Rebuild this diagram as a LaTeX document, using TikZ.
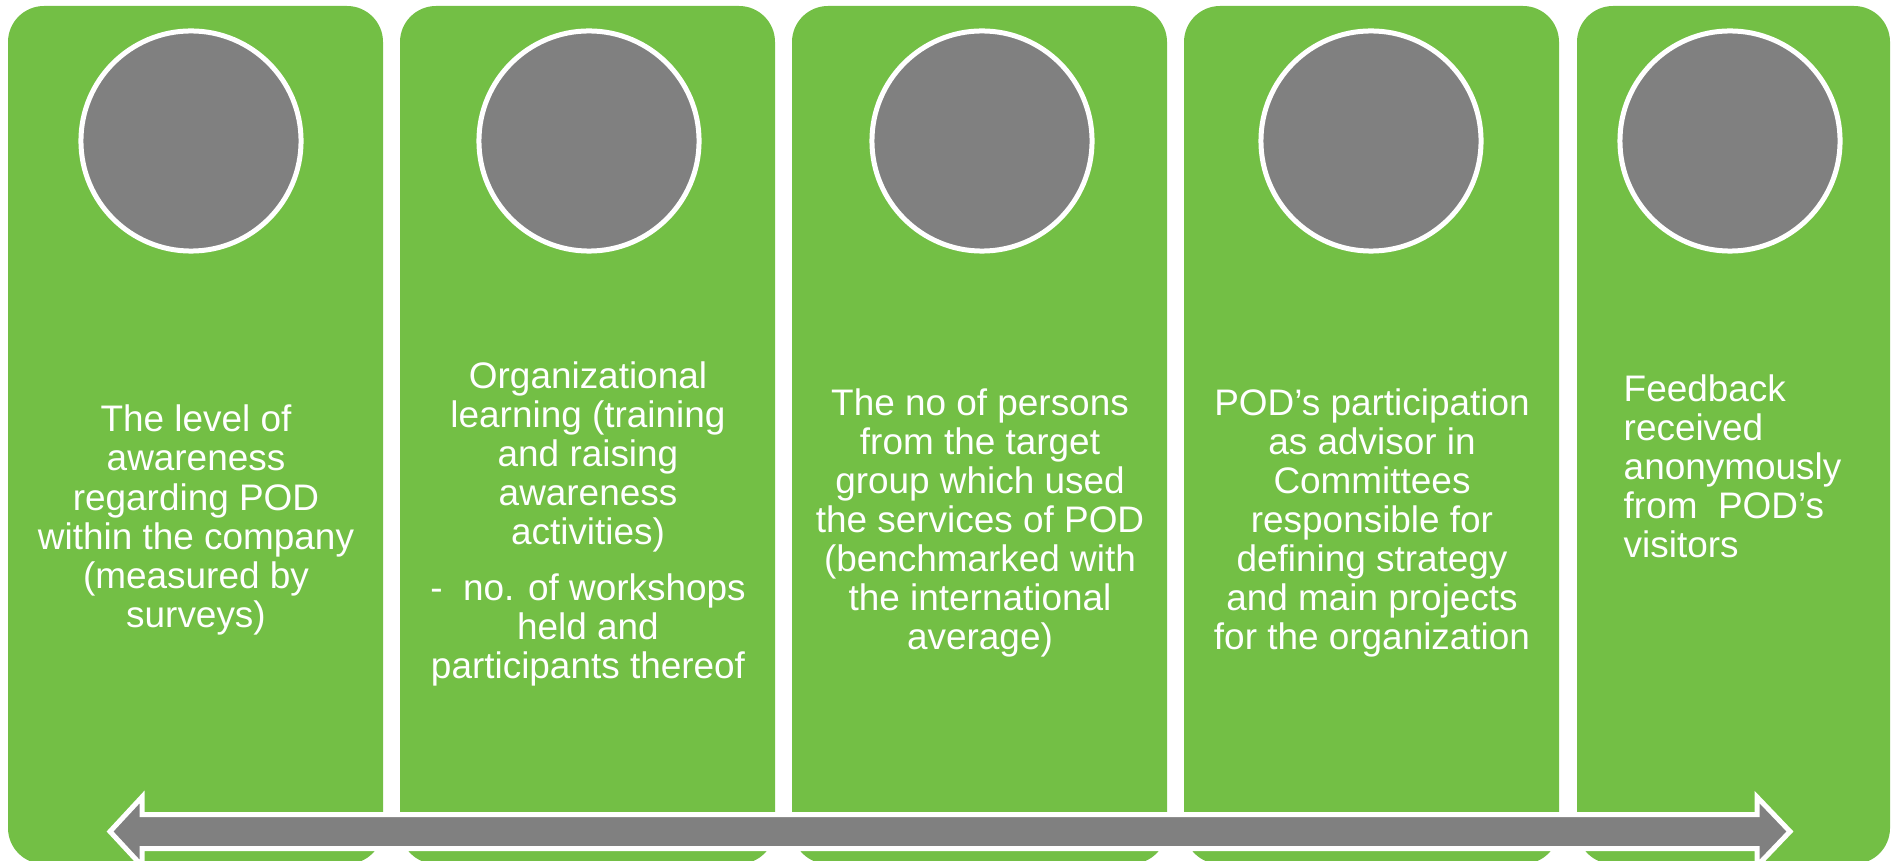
\documentclass[tikz,border=0pt]{standalone}
\usepackage{fontspec}
\setmainfont{Liberation Sans}
\definecolor{boxgreen}{RGB}{115,191,69}
\definecolor{discgray}{RGB}{128,128,128}
\tikzset{
  panel/.style={fill=boxgreen, rounded corners=0.36cm},
  disc/.style={circle, fill=discgray, draw=white, line width=0.05cm, minimum size=2.2cm, inner sep=0},
  itemtext/.style={text=white, align=center, inner sep=0, font=\fontsize{10.5}{11.1}\selectfont}
}
\begin{document}
\begin{tikzpicture}[x=0.01cm, y=-0.01cm]
\useasboundingbox (0,0) rectangle (1897,861);
\clip (0,0) rectangle (1897,861);
\foreach \l/\r in {8/383,400/775,792/1167,1184/1559,1577/1890}{
  \fill [panel] (\l,6) rectangle (\r,864);
}
\foreach \i/\cx in {1/191,2/589,3/982,4/1371,5/1730}{
  \node [disc] (disc\i) at (\cx,141) {};
}
\node [itemtext] (txt1) at (196,520) {The level of\\awareness\\regarding POD\\within the company\\(measured by\\surveys)};
\node [itemtext] (txt2) at (588,524) {Organizational\\learning (training\\and raising\\awareness\\activities)\\[4.7pt]-\ \ no. of workshops\\held and\\participants thereof};
\node [itemtext] (txt3) at (980,523) {The no of persons\\from the target\\group which used\\the services of POD\\(benchmarked with\\the international\\average)};
\node [itemtext] (txt4) at (1372,523) {POD’s participation\\as advisor in\\Committees\\responsible for\\defining strategy\\and main projects\\for the organization};
\node [itemtext, align=left, anchor=west] (txt5) at (1623,466) {Feedback\\received\\anonymously\\from\ \ POD’s\\visitors};
\draw [white, line width=0.05cm, fill=discgray] (110,831.5) -- (142,797) -- (142,814.5) -- (1757,814.5) -- (1757,797) -- (1790,831.5) -- (1757,866) -- (1757,848.5) -- (142,848.5) -- (142,866) -- cycle;
\end{tikzpicture}
\end{document}
